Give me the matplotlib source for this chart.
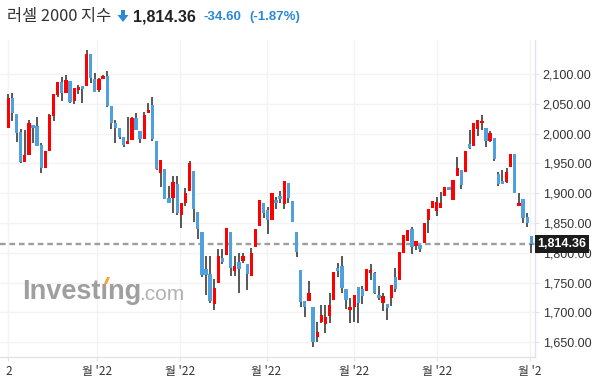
import matplotlib.pyplot as plt
import numpy as np
from matplotlib.patches import Polygon

# daily candles (open, high, low, close)
opens = [2010.0, 2059.7, 2032.9, 2002.7, 1952.9, 1964.6, 2014.4, 2012.8, 1980.9, 1942.8,
         1971.4, 2030.1, 2065.3, 2086.6, 2067.6, 2088.3, 2055.3, 2073.2, 2079.3, 2080.4,
         2133.6, 2091.6, 2073.2, 2092.2, 2096.6, 2045.7, 2017.2, 2008.8, 1993.7, 1983.1,
         1988.7, 2026.2, 2004.4, 1990.9, 2034.0, 2048.0, 1987.6, 1934.4, 1940.6, 1891.9,
         1892.5, 1915.4, 1863.4, 1883.0, 1904.3, 1937.3, 1867.9, 1834.9, 1772.8, 1764.4,
         1714.7, 1749.9, 1791.3, 1796.9, 1834.9, 1770.0, 1784.0, 1786.8, 1781.2, 1761.1,
         1810.3, 1845.5, 1884.1, 1871.8, 1855.1, 1888.6, 1895.9, 1881.3, 1916.6, 1886.9,
         1834.9, 1771.2, 1719.7, 1719.7, 1709.6, 1658.2, 1683.3, 1680.0, 1694.5, 1721.4,
         1775.1, 1778.4, 1739.3, 1704.6, 1708.5, 1743.2, 1739.3, 1735.9, 1766.7, 1766.1,
         1729.2, 1716.4, 1714.1, 1724.7, 1759.4, 1754.4, 1799.1, 1820.4, 1839.4, 1812.0,
         1813.7, 1815.9, 1855.1, 1875.8, 1870.7, 1875.8, 1895.9, 1911.0, 1888.6, 1929.4,
         1938.9, 1936.2, 1982.6, 1979.8, 2007.7, 2017.2, 2009.4, 1987.6, 1992.6, 1932.2,
         1920.5, 1919.4, 1944.5, 1965.8, 1878.5, 1890.3, 1860.1, 1828.2]
highs = [2065.9, 2067.6, 2032.9, 2007.2, 2006.0, 2022.8, 2014.4, 2027.3, 1983.7, 1970.8,
         2032.9, 2066.4, 2086.6, 2094.4, 2098.3, 2088.3, 2076.0, 2081.0, 2079.3, 2139.7,
         2133.6, 2101.1, 2092.7, 2098.3, 2104.5, 2045.7, 2022.8, 2008.8, 1993.7, 2027.3,
         2027.3, 2034.0, 2004.4, 2036.2, 2051.9, 2060.8, 1987.6, 1955.7, 1940.6, 1912.1,
         1928.9, 1928.9, 1883.0, 1908.2, 1954.0, 1937.3, 1867.9, 1834.9, 1794.6, 1794.6,
         1755.5, 1805.8, 1805.8, 1841.6, 1834.9, 1794.6, 1799.1, 1799.1, 1781.2, 1807.5,
         1840.0, 1888.6, 1884.1, 1877.4, 1899.8, 1894.2, 1904.3, 1920.5, 1916.6, 1886.9,
         1834.9, 1771.2, 1719.7, 1752.1, 1709.6, 1684.5, 1711.9, 1711.9, 1732.0, 1767.8,
         1782.3, 1794.6, 1739.3, 1724.7, 1729.2, 1743.2, 1744.9, 1772.3, 1780.7, 1767.0,
         1744.3, 1733.1, 1714.1, 1746.0, 1774.0, 1801.4, 1829.9, 1838.3, 1843.9, 1819.3,
         1813.7, 1850.0, 1873.5, 1887.0, 1894.2, 1901.5, 1909.9, 1911.0, 1922.2, 1960.8,
         1938.9, 1970.8, 2006.1, 2017.8, 2022.8, 2031.2, 2009.4, 2004.4, 1992.6, 1936.2,
         1939.0, 1941.8, 1965.8, 1965.8, 1899.8, 1890.3, 1866.2, 1828.2]
lows = [2010.0, 2021.0, 1986.5, 1951.2, 1952.9, 1964.6, 1983.7, 1979.8, 1933.3, 1942.8,
        1971.4, 2020.6, 2060.8, 2055.3, 2067.6, 2051.9, 2049.1, 2065.9, 2050.8, 2080.4,
        2085.5, 2070.4, 2069.2, 2092.2, 2044.0, 2007.2, 1984.8, 1990.9, 1978.1, 1982.0,
        1988.7, 2006.0, 1983.7, 1990.9, 2034.0, 1988.1, 1938.9, 1909.8, 1890.8, 1883.0,
        1866.2, 1863.4, 1841.0, 1878.0, 1904.3, 1851.1, 1822.6, 1760.0, 1728.6, 1716.3,
        1703.5, 1749.9, 1781.2, 1796.9, 1761.1, 1761.1, 1732.0, 1783.5, 1737.0, 1761.1,
        1810.3, 1845.5, 1857.8, 1831.0, 1855.1, 1873.0, 1883.0, 1873.0, 1883.0, 1852.3,
        1793.5, 1709.6, 1692.9, 1719.7, 1642.5, 1650.9, 1681.7, 1666.0, 1681.7, 1721.4,
        1760.0, 1732.0, 1705.2, 1682.8, 1683.9, 1682.8, 1714.1, 1735.9, 1754.4, 1731.0,
        1720.8, 1702.4, 1687.3, 1710.8, 1734.8, 1754.4, 1799.1, 1820.4, 1797.4, 1804.7,
        1801.9, 1815.9, 1833.8, 1875.8, 1861.8, 1875.8, 1895.9, 1905.4, 1888.6, 1929.4,
        1906.5, 1936.2, 1973.6, 1979.8, 1996.6, 2006.1, 1977.0, 1985.4, 1953.5, 1912.1,
        1916.0, 1917.7, 1944.5, 1899.8, 1878.5, 1849.5, 1843.9, 1800.2]
closes = [2059.2, 2034.0, 2001.6, 1952.3, 1964.1, 2017.8, 2010.0, 1979.8, 1942.8, 1970.8,
          2031.2, 2066.4, 2086.6, 2067.6, 2089.9, 2053.6, 2076.0, 2078.2, 2075.4, 2133.6,
          2092.7, 2070.4, 2091.1, 2097.2, 2046.9, 2018.3, 2009.4, 1994.3, 1980.9, 1987.6,
          2025.6, 2006.0, 1990.9, 2031.2, 2039.6, 1990.9, 1941.2, 1955.7, 1890.8, 1883.0,
          1918.8, 1866.2, 1883.0, 1899.8, 1950.1, 1872.9, 1840.0, 1762.8, 1762.8, 1719.1,
          1741.0, 1794.6, 1785.1, 1841.6, 1775.1, 1777.9, 1772.8, 1794.6, 1764.4, 1799.1,
          1840.0, 1888.6, 1866.2, 1855.1, 1899.8, 1884.1, 1890.3, 1920.5, 1892.5, 1852.3,
          1801.9, 1716.9, 1709.6, 1732.0, 1650.9, 1667.7, 1695.6, 1692.9, 1712.4, 1767.8,
          1770.0, 1740.9, 1720.8, 1709.1, 1729.2, 1715.2, 1728.1, 1772.3, 1771.2, 1733.1,
          1724.7, 1727.5, 1708.0, 1746.0, 1739.3, 1801.4, 1829.9, 1838.3, 1809.8, 1819.3,
          1807.0, 1850.0, 1873.5, 1887.0, 1885.3, 1883.6, 1909.9, 1905.4, 1922.2, 1942.3,
          1913.8, 1970.8, 1976.4, 2017.8, 2022.8, 2021.2, 1987.6, 2000.5, 1956.8, 1915.5,
          1916.0, 1936.2, 1965.8, 1899.8, 1883.0, 1857.9, 1850.6, 1814.36]

last_price = 1814.36
change_text = '-34.60'
pct_text = '(-1.87%)'
title_name = '러셀 2000 지수'
y_ticks = [1650, 1700, 1750, 1800, 1850, 1900, 1950, 2000, 2050, 2100]
x_tick_pos = [0, 21.5, 41.8, 62.7, 83.9, 104.1, 126.6]
x_tick_labels = ["2", "월 '22", "월 '22", "월 '22", "월 '22", "월 '22", "월 '2"]

UP = '#ff0000'
DOWN = '#4ea1dc'
KR = ['Noto Sans CJK KR', 'DejaVu Sans']

W, H = 597, 388
fig = plt.figure(figsize=(W / 100, H / 100), dpi=100)
ax = fig.add_axes([0, 31 / H, 535 / W, 317 / H])

o = np.array(opens)
c = np.array(closes)
x = np.arange(len(o))
colors = np.where(c >= o, UP, DOWN)
bottom = np.minimum(o, c)
height = np.maximum(np.abs(c - o), 1.6)

ax.vlines(x, lows, highs, color='#2a2a2a', lw=1.1, zorder=2)
ax.bar(x, height, bottom=bottom, width=0.8, color=colors, zorder=3)

ax.axhline(last_price, color='#9e9e9e', lw=1.7, ls=(0, (2.4, 1.6)), zorder=1.5)

ax.set_xlim(-2.02, 127.9)
ax.set_ylim(1625.1, 2157.1)

ax.set_yticks(y_ticks)
ax.set_yticklabels([f'{v:,.2f}' for v in y_ticks], family='Liberation Sans')
ax.set_xticks(x_tick_pos)
ax.set_xticklabels(x_tick_labels, family=KR)
ax.yaxis.tick_right()
ax.tick_params(axis='y', length=3, color='#dfe2ea', pad=2.5, labelsize=9, labelcolor='#333333')
ax.tick_params(axis='x', length=3, color='#dfe2ea', pad=3, labelsize=8.5, labelcolor='#333333')
ax.grid(True, color='#f3f3f3', lw=1, zorder=0)
ax.set_axisbelow(True)
for side in ['top', 'left']:
    ax.spines[side].set_visible(False)
for side in ['right', 'bottom']:
    ax.spines[side].set_color('#e0e3eb')
    ax.spines[side].set_linewidth(1)

# current price tag on the axis (covers the 1,800.00 label like the original)
ax.text(1.005, last_price, f'{last_price:,.2f}', transform=ax.get_yaxis_transform(),
        ha='left', va='center', color='white', fontsize=9, fontweight='bold',
        family='Liberation Sans', zorder=10, clip_on=False,
        bbox=dict(boxstyle='square,pad=0.22', fc='#1c1c1c', ec='none'))

# watermark
fig.text(22 / W, 1 - 292 / H, 'Investıng', fontsize=19.5, fontweight='bold',
         family='Liberation Sans', color='#8e8e8e', alpha=0.85, va='center', zorder=0)
fig.text(139 / W, 1 - 294 / H, '.com', fontsize=15, family='Liberation Sans',
         color='#a5a5a5', alpha=0.85, va='center', zorder=0)
fig.add_artist(Polygon([[104 / W, 1 - 284 / H], [107 / W, 1 - 284 / H],
                        [110 / W, 1 - 277 / H], [107 / W, 1 - 277 / H]],
                       closed=True, transform=fig.transFigure, fc='#f6a52a', ec='none'))

# header
fig.text(7 / W, 1 - 17 / H, title_name, fontsize=11.8, family=KR, color='#333333', va='center')
fig.add_artist(Polygon([[121 / W, 1 - 10 / H], [125 / W, 1 - 10 / H], [125 / W, 1 - 15 / H],
                        [128.5 / W, 1 - 15 / H], [123 / W, 1 - 22 / H], [117.5 / W, 1 - 15 / H],
                        [121 / W, 1 - 15 / H]],
                       closed=True, transform=fig.transFigure, fc='#2a8ad8', ec='none'))
fig.text(133 / W, 1 - 17 / H, f'{last_price:,.2f}', fontsize=11.5, fontweight='bold',
         family='Liberation Sans', color='#222222', va='center')
fig.text(203 / W, 1 - 17 / H, change_text, fontsize=9.5, fontweight='bold',
         family='Liberation Sans', color='#2a8ad8', va='center')
fig.text(249 / W, 1 - 17 / H, pct_text, fontsize=9.5, fontweight='bold',
         family='Liberation Sans', color='#2a8ad8', va='center')

fig.savefig('out.png', dpi=100)
